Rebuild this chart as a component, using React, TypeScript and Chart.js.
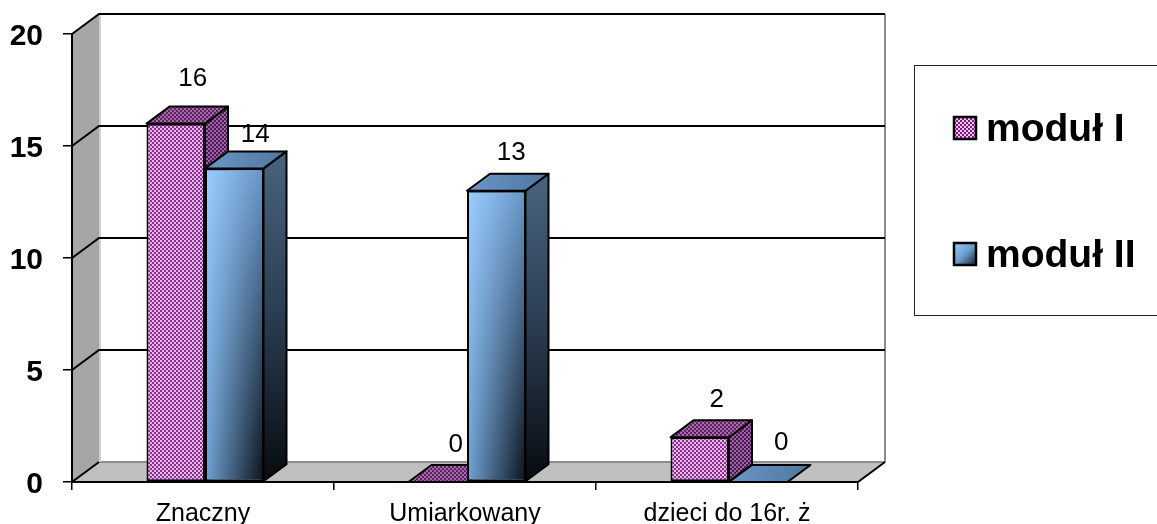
import React, { useEffect, useRef } from "react";
import { Chart, registerables } from "chart.js";

Chart.register(...registerables);

const categories = ["Znaczny", "Umiarkowany", "dzieci do 16r. ż"];
const modul1 = [16, 0, 2];
const modul2 = [14, 13, 0];
const seriesNames = ["moduł I", "moduł II"];
const yTicks = [0, 5, 10, 15, 20];

const FONT = '"Liberation Sans", Arial, sans-serif';
const DEPTH_X = 27;
const DEPTH_Y = 20;
const BAR_DX = 23;
const BAR_DY = 17;
const BAR_SHIFT = 2;
const Y_LABEL_SHIFT = 3;
// label nudges relative to the bar's top centre, per dataset then category
const labelNudge = [
  [[17, -45], [18, -37], [17, -37]],
  [[21, -34], [15, -38], [23, -39]],
];

function checker(a: string, b: string, size = 2) {
  const c = document.createElement("canvas");
  c.width = size * 2;
  c.height = size * 2;
  const g = c.getContext("2d")!;
  g.fillStyle = a;
  g.fillRect(0, 0, c.width, c.height);
  g.fillStyle = b;
  g.fillRect(0, 0, size, size);
  g.fillRect(size, size, size, size);
  return g.createPattern(c, "repeat")!;
}

function lerpColor(a: number[], b: number[], t: number) {
  return a.map((v, i) => Math.round(v + (b[i] - v) * t));
}
const rgb = (c: number[]) => `rgb(${c[0]},${c[1]},${c[2]})`;

const TL = [153, 204, 255];
const TR = [106, 152, 200];
const BL = [108, 157, 206];
const BR = [14, 22, 32];

function poly(ctx: CanvasRenderingContext2D, pts: number[][]) {
  ctx.beginPath();
  pts.forEach((p, i) => (i ? ctx.lineTo(p[0], p[1]) : ctx.moveTo(p[0], p[1])));
  ctx.closePath();
}

let pats: any = null;

function drawFaces(chart: any, idx: number) {
  const { ctx } = chart;
  const p = pats;
  chart.getDatasetMeta(idx).data.forEach((el: any) => {
    const x0 = el.x - el.width / 2;
    const x1 = el.x + el.width / 2;
    const top = el.y;
    const base = el.base;
    // gradient front for the blue series
    if (idx === 1 && base - top > 4) {
      const inset = 2;
      const w = Math.round(x1 - x0 - inset * 2);
      const xs = Math.round(x0 + inset);
      for (let i = 0; i < w; i++) {
        const u = i / Math.max(1, w - 1);
        const g = ctx.createLinearGradient(0, top, 0, base);
        g.addColorStop(0, rgb(lerpColor(TL, TR, u)));
        g.addColorStop(1, rgb(lerpColor(BL, BR, u)));
        ctx.fillStyle = g;
        ctx.fillRect(xs + i, top + inset, 1, base - top - inset * 2);
      }
    }
    ctx.lineWidth = 2;
    ctx.lineJoin = "round";
    ctx.strokeStyle = "#000";
    // side
    if (base - top > 0.5) {
      poly(ctx, [[x1, top], [x1 + BAR_DX, top - BAR_DY], [x1 + BAR_DX, base - BAR_DY], [x1, base]]);
      if (idx === 0) {
        ctx.fillStyle = p.side;
      } else {
        const g = ctx.createLinearGradient(0, top - BAR_DY, 0, base);
        g.addColorStop(0, "#48647f");
        g.addColorStop(0.5, "#2a3c50");
        g.addColorStop(1, "#070b10");
        ctx.fillStyle = g;
      }
      ctx.fill();
      ctx.stroke();
    }
    // top
    poly(ctx, [[x0, top], [x0 + BAR_DX, top - BAR_DY], [x1 + BAR_DX, top - BAR_DY], [x1, top]]);
    if (idx === 0) {
      ctx.fillStyle = p.top;
    } else {
      const g = ctx.createLinearGradient(x0, 0, x1 + BAR_DX, 0);
      g.addColorStop(0, "#6a97c6");
      g.addColorStop(1, "#4f76a0");
      ctx.fillStyle = g;
    }
    ctx.fill();
    ctx.stroke();
  });
}

const box3d = {
  id: "box3d",
  afterLayout(chart: any) {
    const y = chart.scales.y;
    if (y.$shifted) return;
    y.$shifted = true;
    const orig = y.drawLabels;
    y.drawLabels = function (area: any) {
      chart.ctx.save();
      chart.ctx.translate(0, Y_LABEL_SHIFT);
      orig.call(this, area);
      chart.ctx.restore();
    };
  },
  beforeDraw(chart: any) {
    const { ctx, chartArea: a } = chart;
    const y = chart.scales.y;
    const { left: l, right: r, top: t, bottom: b } = a;
    const dx = DEPTH_X;
    const dy = DEPTH_Y;
    ctx.save();
    ctx.fillStyle = "#fff";
    ctx.fillRect(0, 0, chart.width, chart.height);
    // floor
    poly(ctx, [[l, b], [l + dx, b - dy], [r + dx, b - dy], [r, b]]);
    ctx.fillStyle = "#c0c0c0";
    ctx.fill();
    // left wall
    poly(ctx, [[l, t], [l + dx, t - dy], [l + dx, b - dy], [l, b]]);
    ctx.fillStyle = "#a6a6a6";
    ctx.fill();
    // inner edges
    ctx.lineWidth = 2;
    ctx.strokeStyle = "#8c8c8c";
    ctx.beginPath();
    ctx.moveTo(r + dx, t - dy);
    ctx.lineTo(r + dx, b - dy);
    ctx.moveTo(l + dx, b - dy);
    ctx.lineTo(r + dx, b - dy);
    ctx.stroke();
    ctx.strokeStyle = "#d0d0d0";
    ctx.beginPath();
    ctx.moveTo(l + dx + 1, t - dy);
    ctx.lineTo(l + dx + 1, b - dy);
    ctx.stroke();
    // grid on the walls
    ctx.strokeStyle = "#000";
    yTicks.forEach((v) => {
      const py = y.getPixelForValue(v);
      ctx.beginPath();
      ctx.moveTo(l, py);
      ctx.lineTo(l + dx, py - dy);
      if (v > 0) ctx.lineTo(r + dx, py - dy);
      ctx.stroke();
    });
    ctx.beginPath();
    ctx.moveTo(r, b);
    ctx.lineTo(r + dx, b - dy);
    ctx.stroke();
    ctx.restore();
  },
  // the library paints the last dataset first; here the first one has to go first
  beforeDatasetDraw() {
    return false;
  },
  afterDatasetsDraw(chart: any) {
    const { ctx } = chart;
    ctx.save();
    ctx.translate(BAR_SHIFT, 0);
    chart.data.datasets.forEach((_: any, d: number) => {
      chart.getDatasetMeta(d).controller.draw();
      drawFaces(chart, d);
    });
    ctx.restore();
    ctx.save();
    // data labels
    ctx.fillStyle = "#000";
    ctx.font = `26px ${FONT}`;
    ctx.textAlign = "center";
    ctx.textBaseline = "middle";
    chart.data.datasets.forEach((ds: any, d: number) => {
      chart.getDatasetMeta(d).data.forEach((el: any, i: number) => {
        const n = labelNudge[d][i];
        ctx.fillText(String(ds.data[i]), el.x + BAR_SHIFT + n[0], el.y + n[1]);
      });
    });
    // legend
    ctx.lineWidth = 1;
    ctx.strokeStyle = "#222";
    ctx.strokeRect(914.5, 65.5, 300, 250);
    const rowsY = [128, 254];
    ctx.font = `bold 39px ${FONT}`;
    ctx.textAlign = "left";
    ctx.textBaseline = "alphabetic";
    chart.data.datasets.forEach((ds: any, d: number) => {
      const cy = rowsY[d];
      if (d === 0) {
        ctx.fillStyle = pats.legend;
      } else {
        const g = ctx.createLinearGradient(954, cy - 11, 976, cy + 11);
        g.addColorStop(0, "#99ccff");
        g.addColorStop(0.5, "#6c9dce");
        g.addColorStop(1, "#16222e");
        ctx.fillStyle = g;
      }
      ctx.fillRect(954, cy - 11, 22, 22);
      ctx.lineWidth = 2.5;
      ctx.strokeStyle = "#000";
      ctx.strokeRect(954, cy - 11, 22, 22);
      ctx.fillStyle = "#000";
      ctx.fillText(ds.label, 986, cy + 13);
    });
    ctx.restore();
  },
};

export default function App() {
  const ref = useRef<HTMLCanvasElement>(null);
  useEffect(() => {
    document.body.style.margin = "0";
    const canvas = ref.current!;
    pats = {
      front: checker("#e8b8e8", "#8a3090"),
      side: checker("#a060a8", "#4a1a52"),
      top: checker("#a868a8", "#5a2462"),
      legend: checker("#f0c4f0", "#801880"),
    };
    const chart: any = new Chart(canvas, {
      type: "bar",
      data: {
        labels: categories,
        datasets: [
          {
            label: seriesNames[0],
            data: modul1,
            backgroundColor: pats.front,
            borderColor: "#000",
            borderWidth: 2,
            borderSkipped: false,
          },
          {
            label: seriesNames[1],
            data: modul2,
            backgroundColor: "#6c9dce",
            borderColor: "#000",
            borderWidth: 2,
            borderSkipped: false,
          },
        ],
      },
      options: {
        responsive: false,
        animation: false,
        events: [],
        layout: { padding: { left: 0, top: 34, right: 299, bottom: 0 } },
        datasets: { bar: { categoryPercentage: 0.4466, barPercentage: 1 } },
        plugins: { legend: { display: false }, tooltip: { enabled: false } },
        scales: {
          x: {
            grid: { drawOnChartArea: false, color: "#000", lineWidth: 1.5, tickLength: 8 },
            border: { color: "#000", width: 2 },
            ticks: {
              color: "#000",
              padding: 9,
              maxRotation: 0,
              autoSkip: false,
              font: { family: FONT, size: 25 },
            },
            afterFit: (s: any) => {
              s.height = 42;
            },
          },
          y: {
            min: 0,
            max: 20,
            grid: { drawOnChartArea: false, color: "#000", lineWidth: 1.5, tickLength: 9 },
            border: { color: "#000", width: 2 },
            ticks: {
              color: "#000",
              stepSize: 5,
              padding: 20,
              font: { family: FONT, size: 30, weight: "bold" },
            },
            afterFit: (s: any) => {
              s.width = 72;
              s.paddingTop = 0;
              s.paddingBottom = 0;
            },
          },
        },
      },
      plugins: [box3d],
    } as any);
    return () => chart.destroy();
  }, []);
  return <canvas ref={ref} width={1157} height={524} style={{ display: "block" }} />;
}
